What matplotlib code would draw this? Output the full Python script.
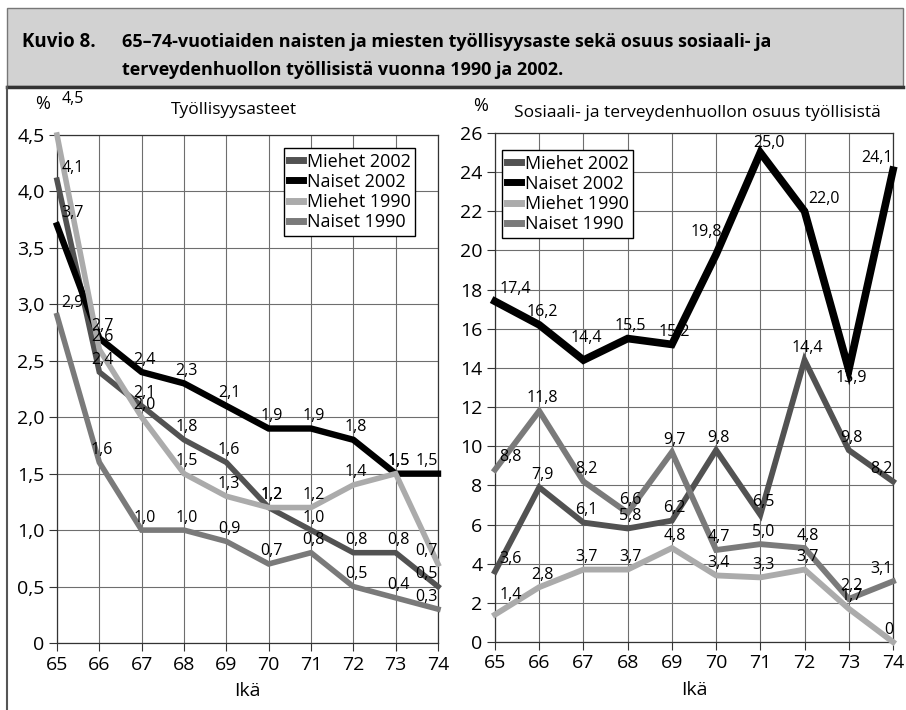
import matplotlib
matplotlib.use('Agg')
import matplotlib.pyplot as plt
from matplotlib.patches import Rectangle
from matplotlib.lines import Line2D

plt.rcParams['font.family'] = ['Open Sans', 'DejaVu Sans']

ages = [65, 66, 67, 68, 69, 70, 71, 72, 73, 74]
series_names = ['Miehet 2002', 'Naiset 2002', 'Miehet 1990', 'Naiset 1990']

# Työllisyysasteet, %
emp_miehet_2002 = [4.1, 2.4, 2.1, 1.8, 1.6, 1.2, 1.0, 0.8, 0.8, 0.5]
emp_naiset_2002 = [3.7, 2.7, 2.4, 2.3, 2.1, 1.9, 1.9, 1.8, 1.5, 1.5]
emp_miehet_1990 = [4.5, 2.6, 2.0, 1.5, 1.3, 1.2, 1.2, 1.4, 1.5, 0.7]
emp_naiset_1990 = [2.9, 1.6, 1.0, 1.0, 0.9, 0.7, 0.8, 0.5, 0.4, 0.3]

# Sosiaali- ja terveydenhuollon osuus työllisistä, %
sote_miehet_2002 = [3.6, 7.9, 6.1, 5.8, 6.2, 9.8, 6.5, 14.4, 9.8, 8.2]
sote_naiset_2002 = [17.4, 16.2, 14.4, 15.5, 15.2, 19.8, 25.0, 22.0, 13.9, 24.1]
sote_miehet_1990 = [1.4, 2.8, 3.7, 3.7, 4.8, 3.4, 3.3, 3.7, 1.7, 0.0]
sote_naiset_1990 = [8.8, 11.8, 8.2, 6.6, 9.7, 4.7, 5.0, 4.8, 2.2, 3.1]

emp_ticks = [0, 0.5, 1.0, 1.5, 2.0, 2.5, 3.0, 3.5, 4.0, 4.5]
sote_ticks = [0, 2, 4, 6, 8, 10, 12, 14, 16, 18, 20, 22, 24, 26]

colors = ['#525252', '#000000', '#ababab', '#7a7a7a']

# label offsets in points (dx, dy, ha) where the default does not fit
label_fix = {
    ('emp', 2, 0): (3, 26, 'left'),
    ('sote', 1, 2): (2, 16, 'center'),
    ('sote', 1, 5): (4, 16, 'right'),
    ('sote', 1, 6): (6, 7, 'center'),
    ('sote', 1, 7): (3, 9, 'left'),
    ('sote', 1, 8): (2, -6, 'center'),
    ('sote', 2, 0): (3, 14, 'left'),
}

W, H = 906, 710
fig = plt.figure(figsize=(W / 100, H / 100), dpi=100)


def px(x, y):
    return x / W, 1 - y / H


def fmt(v):
    if v == 0:
        return '0'
    return f'{v:.1f}'.replace('.', ',')


# header box
x0, y0 = px(7, 86)
x1, y1 = px(903, 8)
fig.patches.append(Rectangle((x0, y0), x1 - x0, y1 - y0, transform=fig.transFigure,
                             facecolor='#d2d2d2', edgecolor='#777777', lw=1))
fig.lines.append(Line2D([px(7, 0)[0], px(903, 0)[0]], [px(0, 87)[1]] * 2,
                        transform=fig.transFigure, color='#333333', lw=2.5))
fig.lines.append(Line2D([px(7, 0)[0]] * 2, [px(0, 87)[1], 0],
                        transform=fig.transFigure, color='#555555', lw=1.5))
fig.text(*px(22, 42), 'Kuvio 8.', fontsize=13.5, fontweight='bold', va='center')
fig.text(*px(122, 42), '65–74-vuotiaiden naisten ja miesten työllisyysaste sekä osuus sosiaali- ja',
         fontsize=13, fontweight='bold', va='center')
fig.text(*px(122, 70), 'terveydenhuollon työllisistä vuonna 1990 ja 2002.',
         fontsize=13, fontweight='bold', va='center')


def draw(ax, key, data, widths, ticks, ymax, title, title_xy, pct_xy, legend_xy, tickfmt):
    ax.set_xlim(65, 74)
    ax.set_ylim(0, ymax)
    ax.set_xticks(ages)
    ax.set_yticks(ticks)
    ax.set_yticklabels([tickfmt(t) for t in ticks])
    ax.grid(True, color='#6e6e6e', lw=0.8)
    ax.set_axisbelow(True)
    for s in ax.spines.values():
        s.set_color('#333333')
        s.set_linewidth(0.9)
    ax.tick_params(direction='out', length=6, width=0.8, color='#333333',
                   labelsize=14, pad=3)
    for k, (vals, c, lw) in enumerate(zip(data, colors, widths)):
        ax.plot(ages, vals, color=c, lw=lw, clip_on=False, zorder=3 + k,
                solid_joinstyle='miter')
    for k, vals in enumerate(data):
        for i, (a, v) in enumerate(zip(ages, vals)):
            if i == 0:
                dx, dy, ha = 3, 9, 'left'
            elif i == len(ages) - 1:
                dx, dy, ha = 0, 9, 'right'
            else:
                dx, dy, ha = 2, 9, 'center'
            dx, dy, ha = label_fix.get((key, k, i), (dx, dy, ha))
            ax.annotate(fmt(v), (a, v), xytext=(dx, dy), textcoords='offset points',
                        ha=ha, va='center', fontsize=11.5, zorder=10,
                        annotation_clip=False)
    fig.text(*px(*title_xy), title, fontsize=12.5, ha='center', va='center')
    fig.text(*px(*pct_xy), '%', fontsize=13, ha='center', va='center')
    handles = [Line2D([], [], color=c, lw=5) for c in colors]
    ax.legend(handles, series_names, loc='upper left', bbox_to_anchor=px(*legend_xy),
              bbox_transform=fig.transFigure, borderaxespad=0, fontsize=13,
              handlelength=0.8, handletextpad=0.2, borderpad=0.25, labelspacing=0.12,
              fancybox=False, edgecolor='black', framealpha=1)
    ax.set_xlabel('Ikä', fontsize=14, labelpad=6)


ax1 = fig.add_axes([57 / W, 1 - 643 / H, (438 - 57) / W, (643 - 135) / H])
draw(ax1, 'emp', [emp_miehet_2002, emp_naiset_2002, emp_miehet_1990, emp_naiset_1990],
     [4.0, 4.6, 4.0, 4.0], emp_ticks, 4.5, 'Työllisyysasteet', (234, 110), (43, 104),
     (284, 148), lambda t: '0' if t == 0 else f'{t:.1f}'.replace('.', ','))

ax2 = fig.add_axes([495 / W, 1 - 642 / H, (893 - 495) / W, (642 - 133) / H])
draw(ax2, 'sote', [sote_miehet_2002, sote_naiset_2002, sote_miehet_1990, sote_naiset_1990],
     [4.2, 5.5, 4.2, 4.2], sote_ticks, 26, 'Sosiaali- ja terveydenhuollon osuus työllisistä',
     (697, 113), (481, 106), (502, 150), lambda t: f'{t:d}')

fig.savefig('out.png', dpi=100)
